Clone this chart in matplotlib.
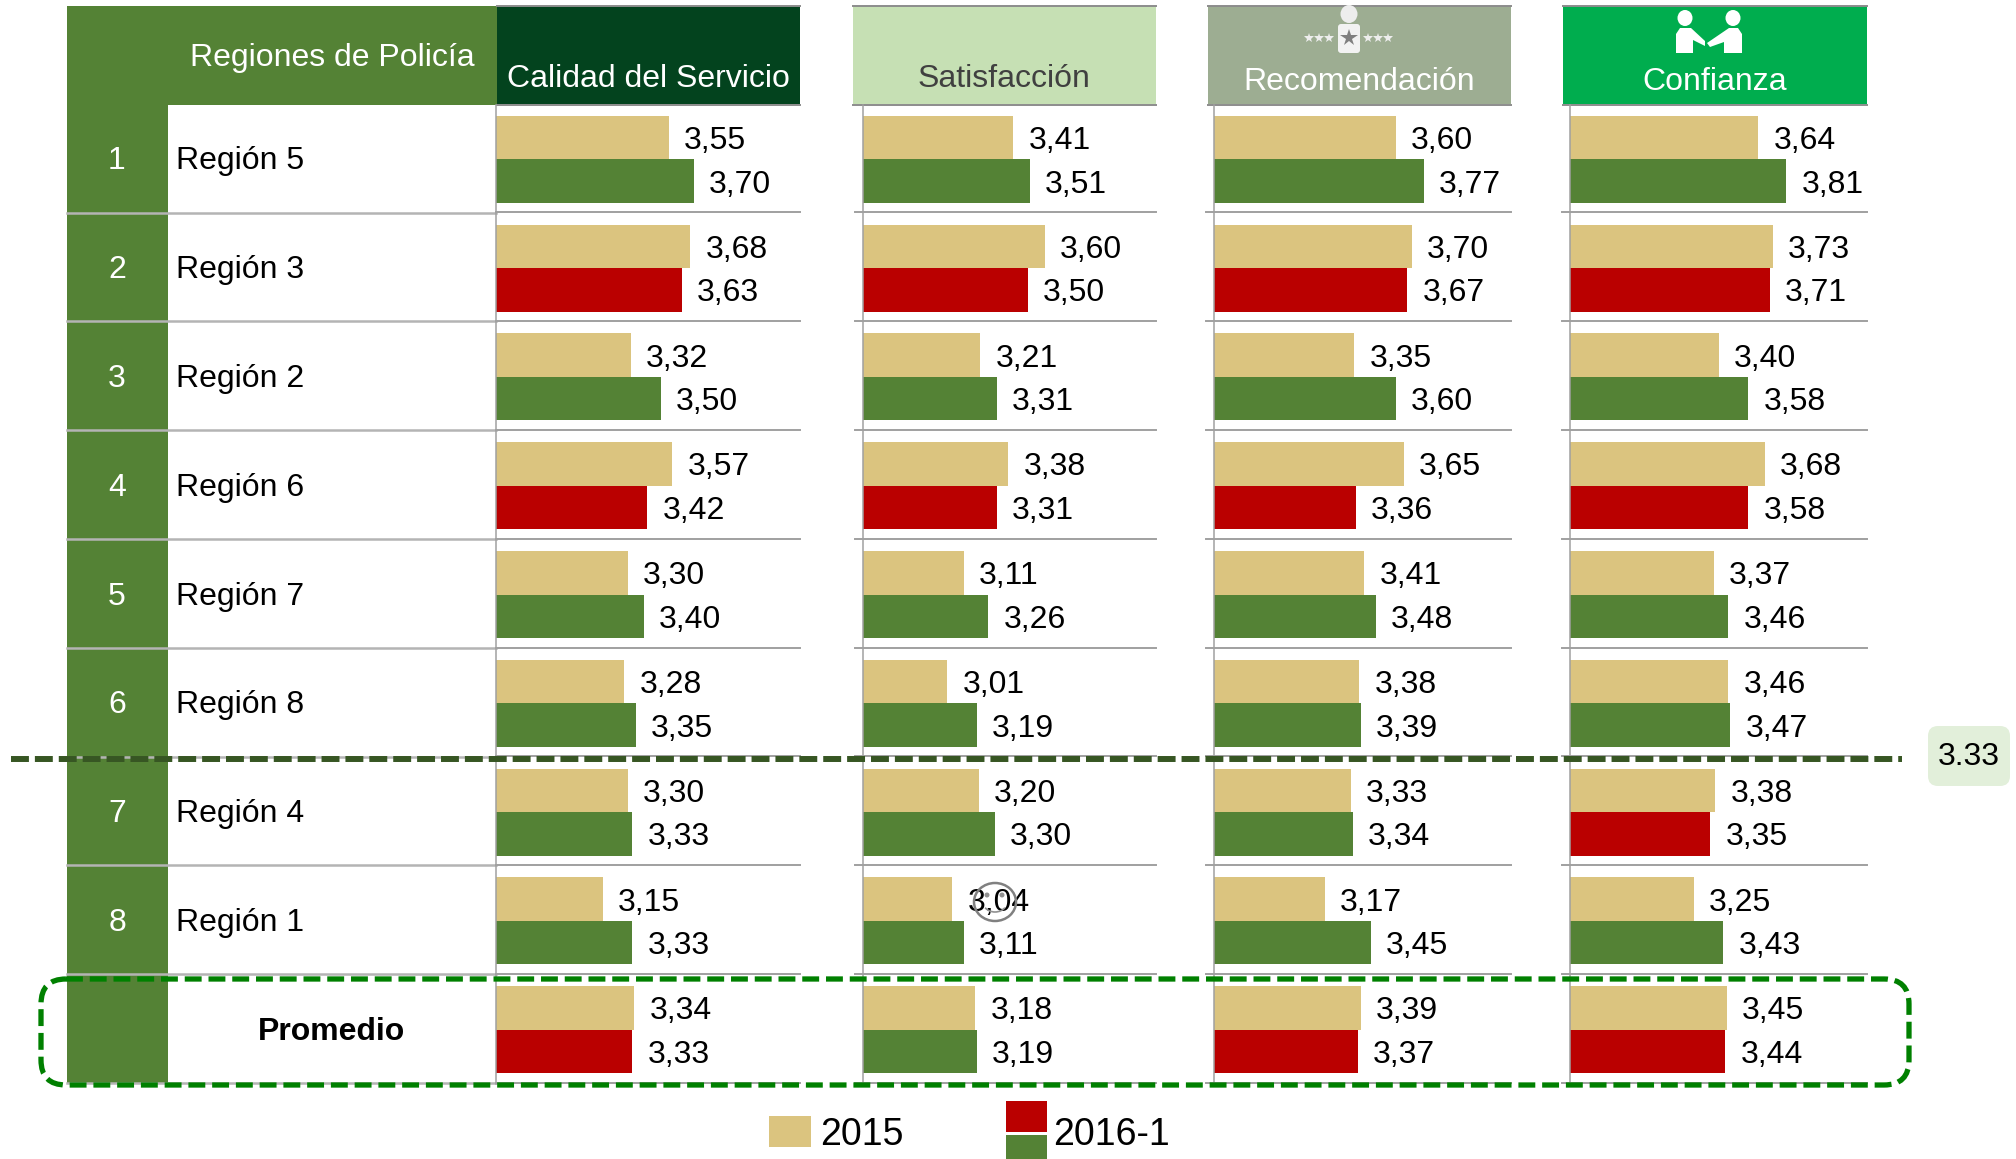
#!/usr/bin/env python3

import matplotlib
matplotlib.use("Agg")
import matplotlib.pyplot as plt
from matplotlib.patches import Rectangle, FancyBboxPatch, Ellipse, Polygon, Arc

plt.rcParams["font.family"] = ["Liberation Sans", "DejaVu Sans"]

regions = ["Región 5", "Región 3", "Región 2", "Región 6", "Región 7", "Región 8", "Región 4", "Región 1", "Promedio"]
ranks = ["1", "2", "3", "4", "5", "6", "7", "8", ""]
headers = ["Calidad del Servicio", "Satisfacción", "Recomendación", "Confianza"]

calidad_2015 = [3.55, 3.68, 3.32, 3.57, 3.30, 3.28, 3.30, 3.15, 3.34]
calidad_2016 = [3.70, 3.63, 3.50, 3.42, 3.40, 3.35, 3.33, 3.33, 3.33]
calidad_red = [0, 1, 0, 1, 0, 0, 0, 0, 1]

satisf_2015 = [3.41, 3.60, 3.21, 3.38, 3.11, 3.01, 3.20, 3.04, 3.18]
satisf_2016 = [3.51, 3.50, 3.31, 3.31, 3.26, 3.19, 3.30, 3.11, 3.19]
satisf_red = [0, 1, 0, 1, 0, 0, 0, 0, 0]

recom_2015 = [3.60, 3.70, 3.35, 3.65, 3.41, 3.38, 3.33, 3.17, 3.39]
recom_2016 = [3.77, 3.67, 3.60, 3.36, 3.48, 3.39, 3.34, 3.45, 3.37]
recom_red = [0, 1, 0, 1, 0, 0, 0, 0, 1]

confi_2015 = [3.64, 3.73, 3.40, 3.68, 3.37, 3.46, 3.38, 3.25, 3.45]
confi_2016 = [3.81, 3.71, 3.58, 3.58, 3.46, 3.47, 3.35, 3.43, 3.44]
confi_red = [0, 1, 0, 1, 0, 0, 1, 0, 1]

GREEN = "#548235"
RED = "#BA0000"
TAN = "#DBC47F"
LINE = "#A0A0A0"

W, H = 2016, 1159
ROW_TOP, ROW_H = 105, 108.8
XMIN, PX_PER_UNIT = 2.5, 165
FS = 23
LINE_SHIFT = 1.3  # separators sit a bit above the row boundary

fig = plt.figure(figsize=(W / 100, H / 100), dpi=100)

# table background, in pixel coordinates
bg = fig.add_axes([0, 0, 1, 1], zorder=0)
bg.set_xlim(0, W)
bg.set_ylim(H, 0)
bg.axis("off")

bg.add_patch(Rectangle((67, 6), 430, 99, color=GREEN, lw=0))
bg.add_patch(Rectangle((67, 105), 101, 979, color=GREEN, lw=0))
bg.text(332, 58, "Regiones de Policía", color="white", fontsize=FS, ha="center", va="center")

for i in range(9):
    y = ROW_TOP + (i + 0.5) * ROW_H
    bg.text(117, y - 1.5, ranks[i], color="white", fontsize=FS, ha="center", va="center_baseline")
    if i < 8:
        bg.text(176, y - 1.5, regions[i], color="black", fontsize=FS, ha="left", va="center_baseline")
    else:
        bg.text(332, y - 1.5, regions[i], color="black", fontsize=FS, ha="center", va="center_baseline",
                fontweight="bold")
    bg.plot([67, 496], [ROW_TOP + (i + 1) * ROW_H - LINE_SHIFT] * 2, color="#B4B4B4", lw=1.8)

head_boxes = [(497, 800, "#03431E", "white", 75.5), (853, 1155.5, "#C6E0B4", "#404040", 75.5),
              (1208, 1510.7, "#9DAD92", "white", 78.5), (1563, 1866.5, "#00AD4E", "white", 78.5)]
for (x0, x1, col, tcol, ty), name in zip(head_boxes, headers):
    bg.add_patch(Rectangle((x0, 6), x1 - x0, 98, color=col, lw=0))
    bg.plot([x0, x1], [6, 6], color="#8C8C8C", lw=1.4)
    bg.plot([x0, x1], [104.5, 104.5], color="#8C8C8C", lw=1.4)
    bg.text((x0 + x1) / 2, ty, name, color=tcol, fontsize=FS, ha="center", va="center_baseline")

# one bar panel per indicator
panels = [(495.5, 800, calidad_2015, calidad_2016, calidad_red),
          (863, 1155.5, satisf_2015, satisf_2016, satisf_red),
          (1214, 1510.7, recom_2015, recom_2016, recom_red),
          (1570, 1866.5, confi_2015, confi_2016, confi_red)]
for left, right, v15, v16, red in panels:
    ax = fig.add_axes([left / W, 1 - 1084 / H, (right - left) / W, 979 / H], zorder=1)
    ax.patch.set_visible(False)
    ax.set_xlim(XMIN, XMIN + (right - left) / PX_PER_UNIT)
    ax.set_ylim(9, 0)
    for s in ["top", "right", "bottom"]:
        ax.spines[s].set_visible(False)
    ax.spines["left"].set_color(LINE)
    ax.spines["left"].set_linewidth(1.1)
    ax.set_xticks([])
    ax.set_yticks([])
    rows = [i + 0.5 for i in range(9)]
    ax.barh([r - 0.2 for r in rows], [v - XMIN for v in v15], height=0.4, left=XMIN, color=TAN)
    colors = [RED if f else GREEN for f in red]
    ax.barh([r + 0.2 for r in rows], [v - XMIN for v in v16], height=0.4, left=XMIN, color=colors)
    for r, a, b in zip(rows, v15, v16):
        for val, yy in ((a, r - 0.2), (b, r + 0.2)):
            ax.annotate(f"{val:.2f}".replace(".", ","), (val, yy), xytext=(11, 0), textcoords="offset points",
                        fontsize=FS, ha="left", va="center_baseline", color="black")
    for i in range(1, 10):
        ax.plot([XMIN - (8 if left > 500 else 0) / PX_PER_UNIT, ax.get_xlim()[1]], [i - LINE_SHIFT / ROW_H] * 2,
                color=LINE, lw=1.4, clip_on=False)

# overlay: dashed marks, icons, legend
top = fig.add_axes([0, 0, 1, 1], zorder=2)
top.set_xlim(0, W)
top.set_ylim(H, 0)
top.axis("off")
top.patch.set_visible(False)

top.plot([11, 1902], [759, 759], color="#375623", lw=4.3, dashes=(3, 1), dash_capstyle="butt")
top.add_patch(FancyBboxPatch((41 + 25, 979 + 25), 1868 - 50, 106 - 50, boxstyle="round,pad=25,rounding_size=25",
                             fill=False, ec="#008000", lw=3.8, ls=(0, (3.2, 1.3))))
top.add_patch(FancyBboxPatch((1936, 734), 66, 44, boxstyle="round,pad=8,rounding_size=10", fc="#E2EFDA", ec="none"))
top.text(1969, 757, "3.33", fontsize=FS, ha="center", va="center", color="black")

# smiley ring around 3,04
top.add_patch(Ellipse((995, 902), 42, 38, fill=False, ec="#808080", lw=1.8))
top.add_patch(Ellipse((987, 895), 5, 5, color="#909090", lw=0, zorder=0.5))
top.add_patch(Ellipse((1002, 895), 5, 5, color="#909090", lw=0, zorder=0.5))
top.add_patch(Arc((995, 902), 24, 20, theta1=30, theta2=150, ec="#909090", lw=1.2))

# person icon
top.add_patch(Ellipse((1349, 14), 17, 18, color="#EDEDED", lw=0))
top.add_patch(FancyBboxPatch((1341, 27), 16, 23, boxstyle="round,pad=3,rounding_size=3", fc="#F2F2F2", ec="none"))
top.plot([1349], [38], marker="*", ms=13, color="#7F7F7F", mew=0)
top.plot([1309, 1319, 1329, 1368, 1378, 1388], [38] * 6, ls="", marker="*", ms=7.5, color="#EDEDED", mew=0)

# handshake icon
top.add_patch(Ellipse((1685, 18), 15, 16, color="white", lw=0))
top.add_patch(Ellipse((1733, 18), 15, 16, color="white", lw=0))
top.add_patch(Polygon([(1676, 53), (1676, 34), (1680, 28), (1691, 28), (1705, 41), (1705, 46), (1693, 40), (1693, 53)],
                      color="white", lw=0))
top.add_patch(Polygon([(1742, 53), (1742, 34), (1738, 28), (1729, 28), (1707, 43), (1710, 47), (1724, 42), (1724, 53)],
                      color="white", lw=0))

# legend
top.add_patch(Rectangle((769, 1116), 41.5, 31, color=TAN, lw=0))
top.text(820, 1135, "2015", fontsize=27, ha="left", va="center", color="black")
top.add_patch(Rectangle((1006, 1101), 41, 31, color=RED, lw=0))
top.add_patch(Rectangle((1006, 1135), 41, 24, color=GREEN, lw=0))
top.text(1053, 1135, "2016-1", fontsize=27, ha="left", va="center", color="black")

fig.savefig("out.png", dpi=100)
plt.close(fig)
